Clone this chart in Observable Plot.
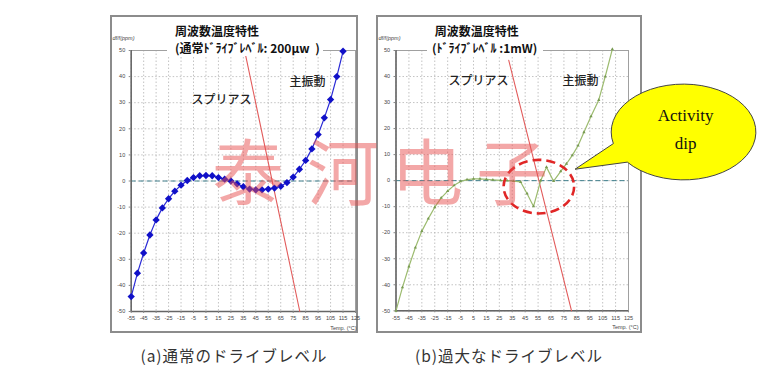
<!DOCTYPE html>
<html><head><meta charset="utf-8">
<script src="https://cdn.jsdelivr.net/npm/d3@7"></script>
<script src="https://cdn.jsdelivr.net/npm/@observablehq/plot@0.6"></script>
<style>
body{margin:0;background:#fff;width:764px;height:368px;position:relative;overflow:hidden;font-family:"Noto Sans CJK JP",sans-serif}
.frame{position:absolute;border:2px solid #8c8c8c;box-sizing:border-box;background:#fff}
.layer{position:absolute;left:0;top:0}
.title{position:absolute;background:#fff;font-weight:700;font-size:12px;line-height:17px;color:#111;white-space:pre;box-sizing:border-box;padding-top:3px}
.caption{position:absolute;top:344px;font-size:15.5px;line-height:22px;color:#333;transform:translateX(-50%);white-space:nowrap;letter-spacing:1px}
.wm{position:absolute;top:128px;width:72px;text-align:center;font-family:"Noto Sans CJK SC";font-size:72px;line-height:80px;color:rgba(232,80,80,0.5);white-space:nowrap}
</style></head>
<body>
<div class="frame" style="left:110px;top:15px;width:248px;height:318px"></div>
<div class="frame" style="left:376px;top:15px;width:266px;height:318px"></div>
<div id="pa" class="layer"></div>
<div id="pb" class="layer"></div>
<div class="title" style="left:167px;top:19px;width:156px;height:37px;padding-left:8px">周波数温度特性
(通常ﾄﾞﾗｲﾌﾞﾚﾍﾞﾙ: 200μw  )</div>
<div class="title" style="left:427px;top:19px;width:116px;height:38px;padding-left:5px"> 周波数温度特性
(ﾄﾞﾗｲﾌﾞﾚﾍﾞﾙ :1mW)</div>
<span class="wm" style="left:212px">泰</span><span class="wm" style="left:307px">河</span><span class="wm" style="left:391px">电</span><span class="wm" style="left:476px">子</span>
<div class="caption" style="left:234px">(a)通常のドライブレベル</div>
<div class="caption" style="left:509px">(b)過大なドライブレベル</div>
<script>
// axes
const tempTicks = [-55,-45,-35,-25,-15,-5,5,15,25,35,45,55,65,75,85,95,105,115,125];
const ppmTicks = [-50,-40,-30,-20,-10,0,10,20,30,40,50];

// (a) normal drive level (200 µW): main vibration
const tempA = [-55,-50,-45,-40,-35,-30,-25,-20,-15,-10,-5,0,5,10,15,20,25,30,35,40,45,50,55,60,65,70,75,80,85,90,95,100,105,110,115];
const mainA = [-44.3,-35.3,-27.6,-20.7,-14.9,-10.3,-6.8,-3.9,-1.6,0.2,1.3,2.0,2.1,2.0,1.3,0.7,0,-1.1,-2.2,-3.1,-3.4,-3.4,-3.1,-2.7,-2.0,-0.6,1.5,4.5,7.9,12.3,17.8,24.2,31.2,40,49.7];
// (a) spurious
const spurTempA = [36.7, 80.3];
const spurA = [48.4, -50];

// (b) excessive drive level (1 mW): main vibration with activity dip
const tempB = [-55,-50,-45,-40,-35,-30,-25,-20,-15,-10,-5,0,5,10,15,20,26,31,36,41.5,46.5,51.5,57,61.5,67,72.5,77,81.5,86,90.5,96,102,107,112.5];
const mainB = [-50,-41,-33,-25.7,-19.4,-14.6,-10.2,-6.6,-4.0,-1.8,-0.3,0.4,0.7,0.7,0.5,0.3,0.1,0,-0.2,-0.5,-5,-9.9,0,5.2,-0.2,3.6,6.5,9.7,13.5,18.6,24.7,31,40,50.5];
// (b) spurious
const spurTempB = [32.3, 80.9];
const spurB = [46.2, -50];

// in-chart labels
const labelText = ["スプリアス", "主振動"];
const labelTempA = [17.5, 86.5];
const labelPpmA = [30.8, 37.7];
const labelTempB = [8.9, 87.8];
const labelPpmB = [38.1, 38.1];

// annotations (data units of panel b)
const dipRing = {T: 56, v: -2.5, dT: 27.3, dv: 10.3};
const callout = {T: 168, v: 18.5, dT: 56, dv: 18.4, tipT: 84, tipV: 4.2, lines: ["Activity", "dip"]};

function panel(o) {
  const main = o.temp.map((T, i) => ({T, v: o.main[i]}));
  const spur = o.spurT.map((T, i) => ({T, v: o.spur[i]}));
  const labels = labelText.map((text, i) => ({text, T: o.labT[i], v: o.labV[i]}));
  const grid = {stroke: "#b4b4b4", strokeOpacity: 1, strokeWidth: 0.8, strokeDasharray: "1.5,2"};
  return Plot.plot({
    width: 764, height: 368,
    marginLeft: o.left, marginRight: 764 - o.right, marginTop: 50, marginBottom: 368 - o.bottom,
    style: {background: "transparent", overflow: "visible", fontFamily: "'Liberation Sans', Arial, sans-serif", fontSize: "5.5px", color: "#444"},
    x: {domain: [-55, 125], label: null},
    y: {domain: [-50, 50], label: null},
    marks: [
      Plot.gridX(tempTicks, grid),
      Plot.gridY(ppmTicks, grid),
      Plot.frame({stroke: "#a0a0a0"}),
      Plot.ruleY([0], {stroke: "#3f7f8c", strokeWidth: 1, strokeDasharray: "5,3"}),
      Plot.ruleX([-55], {stroke: "#666", strokeWidth: 1.5}),
      Plot.ruleY([-50], {stroke: "#666", strokeWidth: 1.5}),
      Plot.axisX(tempTicks, {label: null, tickSize: 2, tickPadding: 3, tickFormat: d => String(d), stroke: "#888"}),
      Plot.axisY(ppmTicks, {label: null, tickSize: 2, tickPadding: 4, tickFormat: d => String(d), stroke: "#888"}),
      Plot.line(spur, {x: "T", y: "v", stroke: "#e25c5c", strokeWidth: 1.1}),
      Plot.line(main, {x: "T", y: "v", stroke: o.color, strokeWidth: o.lw}),
      Plot.dot(main, {x: "T", y: "v", symbol: o.symbol, r: o.r, fill: o.dotColor, stroke: "none"}),
      Plot.text(labels, {x: "T", y: "v", text: "text", fontSize: 12, fontWeight: 500, fill: "#222", fontFamily: "Noto Sans CJK JP"}),
      Plot.text(["df/f(ppm)"], {frameAnchor: "top-left", dx: o.dfDx, dy: -14, textAnchor: "start", fontStyle: "italic"}),
      Plot.text(["Temp. (°C)"], {frameAnchor: "bottom-right", dx: o.tDx, dy: 18, textAnchor: "end"})
    ]
  });
}

const svgA = panel({temp: tempA, main: mainA, spurT: spurTempA, spur: spurA, labT: labelTempA, labV: labelPpmA,
  left: 130.7, right: 355, bottom: 311, color: "#2a2ad6", lw: 1.2, symbol: "diamond2", r: 3.3, dotColor: "#1010c8", dfDx: -18.7, tDx: 1});
const svgB = panel({temp: tempB, main: mainB, spurT: spurTempB, spur: spurB, labT: labelTempB, labV: labelPpmB,
  left: 395.5, right: 628, bottom: 310.3, color: "#9cbb6f", lw: 1.2, symbol: "triangle", r: 1.2, dotColor: "#789a52", dfDx: -17.5, tDx: 10});
document.getElementById("pa").append(svgA);
document.getElementById("pb").append(svgB);

// annotations on panel b using its scales
const sx = svgB.scale("x"), sy = svgB.scale("y");
const X = d3.scaleLinear(sx.domain, sx.range), Y = d3.scaleLinear(sy.domain, sy.range);
const g = d3.select(svgB).append("g");
g.append("ellipse")
  .attr("cx", X(dipRing.T)).attr("cy", Y(dipRing.v))
  .attr("rx", X(dipRing.T + dipRing.dT) - X(dipRing.T)).attr("ry", Y(dipRing.v) - Y(dipRing.v + dipRing.dv))
  .attr("fill", "none").attr("stroke", "#e02626").attr("stroke-width", 2.6).attr("stroke-dasharray", "9,5");
const cx = X(callout.T), cy = Y(callout.v);
const rx = X(callout.T + callout.dT) - cx, ry = cy - Y(callout.v + callout.dv);
const at = a => [cx + rx * Math.cos(a * Math.PI / 180), cy + ry * Math.sin(a * Math.PI / 180)];
const p1 = at(141), p2 = at(166), tip = [X(callout.tipT), Y(callout.tipV)];
g.append("path")
  .attr("d", `M${p1}A${rx},${ry} 0 1 0 ${p2}L${tip}Z`)
  .attr("fill", "#ffff00").attr("stroke", "#444").attr("stroke-width", 1);
g.selectAll("text.co").data(callout.lines).join("text")
  .attr("x", cx + 2).attr("y", (d, i) => cy - 15 + i * 28)
  .attr("text-anchor", "middle").attr("dominant-baseline", "middle")
  .attr("font-family", "'Liberation Serif', serif").attr("font-size", 17).attr("fill", "#111")
  .text(d => d);
</script>
</body></html>
